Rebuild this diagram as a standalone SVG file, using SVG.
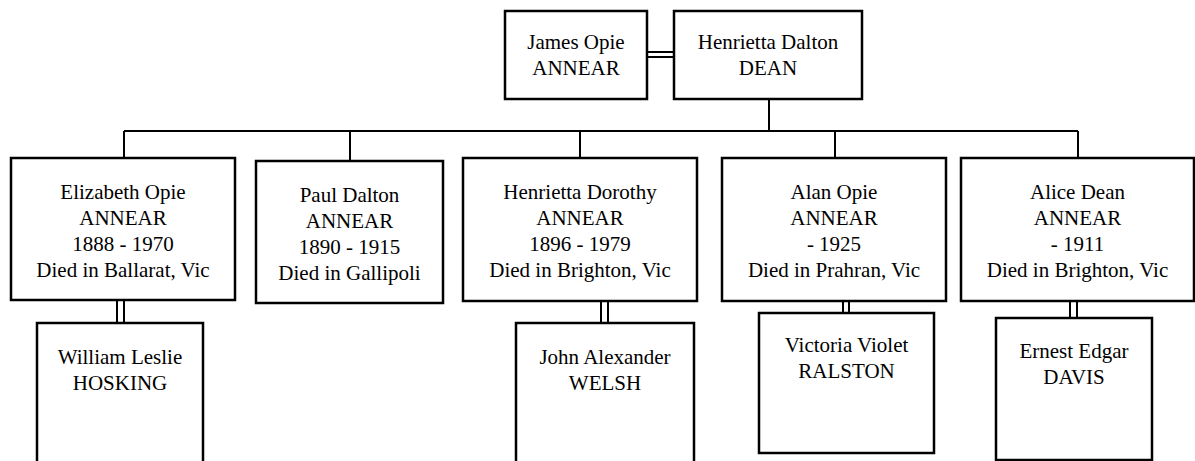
<svg xmlns="http://www.w3.org/2000/svg" width="1195" height="461" viewBox="0 0 1195 461">
<style>
.box{fill:#fff;stroke:#000;stroke-width:2.5}
.ln{fill:none;stroke:#000;stroke-width:2}
.t{font-family:'Liberation Serif','Times New Roman','DejaVu Serif',serif;font-size:21px;fill:#000;text-anchor:middle}
</style>
<rect width="1195" height="461" fill="#fff"/>
<g id="connectors">
<path class="ln" d="M647 52H674M647 57H674"/>
<path class="ln" d="M769 99V131M124 131H1078M124 131V158M350 131V161M580 131V158M835 131V158M1078 131V158"/>
<path class="ln" d="M117 300V323M124 300V323M601 301V323M608 301V323M843 301V313M849 301V313M1070 301V318M1077 301V318"/>
</g>
<g class="t" font-family="Liberation Serif, Times New Roman, DejaVu Serif, serif">
<g id="james">
<rect class="box" x="505" y="11" width="142" height="88"/>
<text x="576" y="49">James Opie</text><text x="576" y="75">ANNEAR</text>
</g>
<g id="henrietta">
<rect class="box" x="674" y="11" width="188" height="88"/>
<text x="768" y="49">Henrietta Dalton</text><text x="768" y="75">DEAN</text>
</g>
<g id="elizabeth">
<rect class="box" x="11" y="158" width="224" height="142"/>
<text x="123" y="199">Elizabeth Opie</text><text x="123" y="225">ANNEAR</text><text x="123" y="251">1888 - 1970</text><text x="123" y="277">Died in Ballarat, Vic</text>
</g>
<g id="paul">
<rect class="box" x="256" y="161" width="187" height="142"/>
<text x="349.5" y="202">Paul Dalton</text><text x="349.5" y="228">ANNEAR</text><text x="349.5" y="254">1890 - 1915</text><text x="349.5" y="280">Died in Gallipoli</text>
</g>
<g id="henrietta-dorothy">
<rect class="box" x="463" y="158" width="234" height="143"/>
<text x="580" y="199">Henrietta Dorothy</text><text x="580" y="225">ANNEAR</text><text x="580" y="251">1896 - 1979</text><text x="580" y="277">Died in Brighton, Vic</text>
</g>
<g id="alan">
<rect class="box" x="722" y="158" width="224" height="143"/>
<text x="834" y="199">Alan Opie</text><text x="834" y="225">ANNEAR</text><text x="834" y="251">- 1925</text><text x="834" y="277">Died in Prahran, Vic</text>
</g>
<g id="alice">
<rect class="box" x="961" y="158" width="233" height="143"/>
<text x="1077.5" y="199">Alice Dean</text><text x="1077.5" y="225">ANNEAR</text><text x="1077.5" y="251">- 1911</text><text x="1077.5" y="277">Died in Brighton, Vic</text>
</g>
<g id="william">
<rect class="box" x="37" y="323" width="166" height="150"/>
<text x="120" y="364">William Leslie</text><text x="120" y="390">HOSKING</text>
</g>
<g id="john">
<rect class="box" x="516" y="323" width="178" height="150"/>
<text x="605" y="364">John Alexander</text><text x="605" y="390">WELSH</text>
</g>
<g id="victoria">
<rect class="box" x="759" y="313" width="175" height="140"/>
<text x="846.5" y="352">Victoria Violet</text><text x="846.5" y="378">RALSTON</text>
</g>
<g id="ernest">
<rect class="box" x="996" y="318" width="156" height="142"/>
<text x="1074" y="358">Ernest Edgar</text><text x="1074" y="384">DAVIS</text>
</g>
</g>
</svg>
